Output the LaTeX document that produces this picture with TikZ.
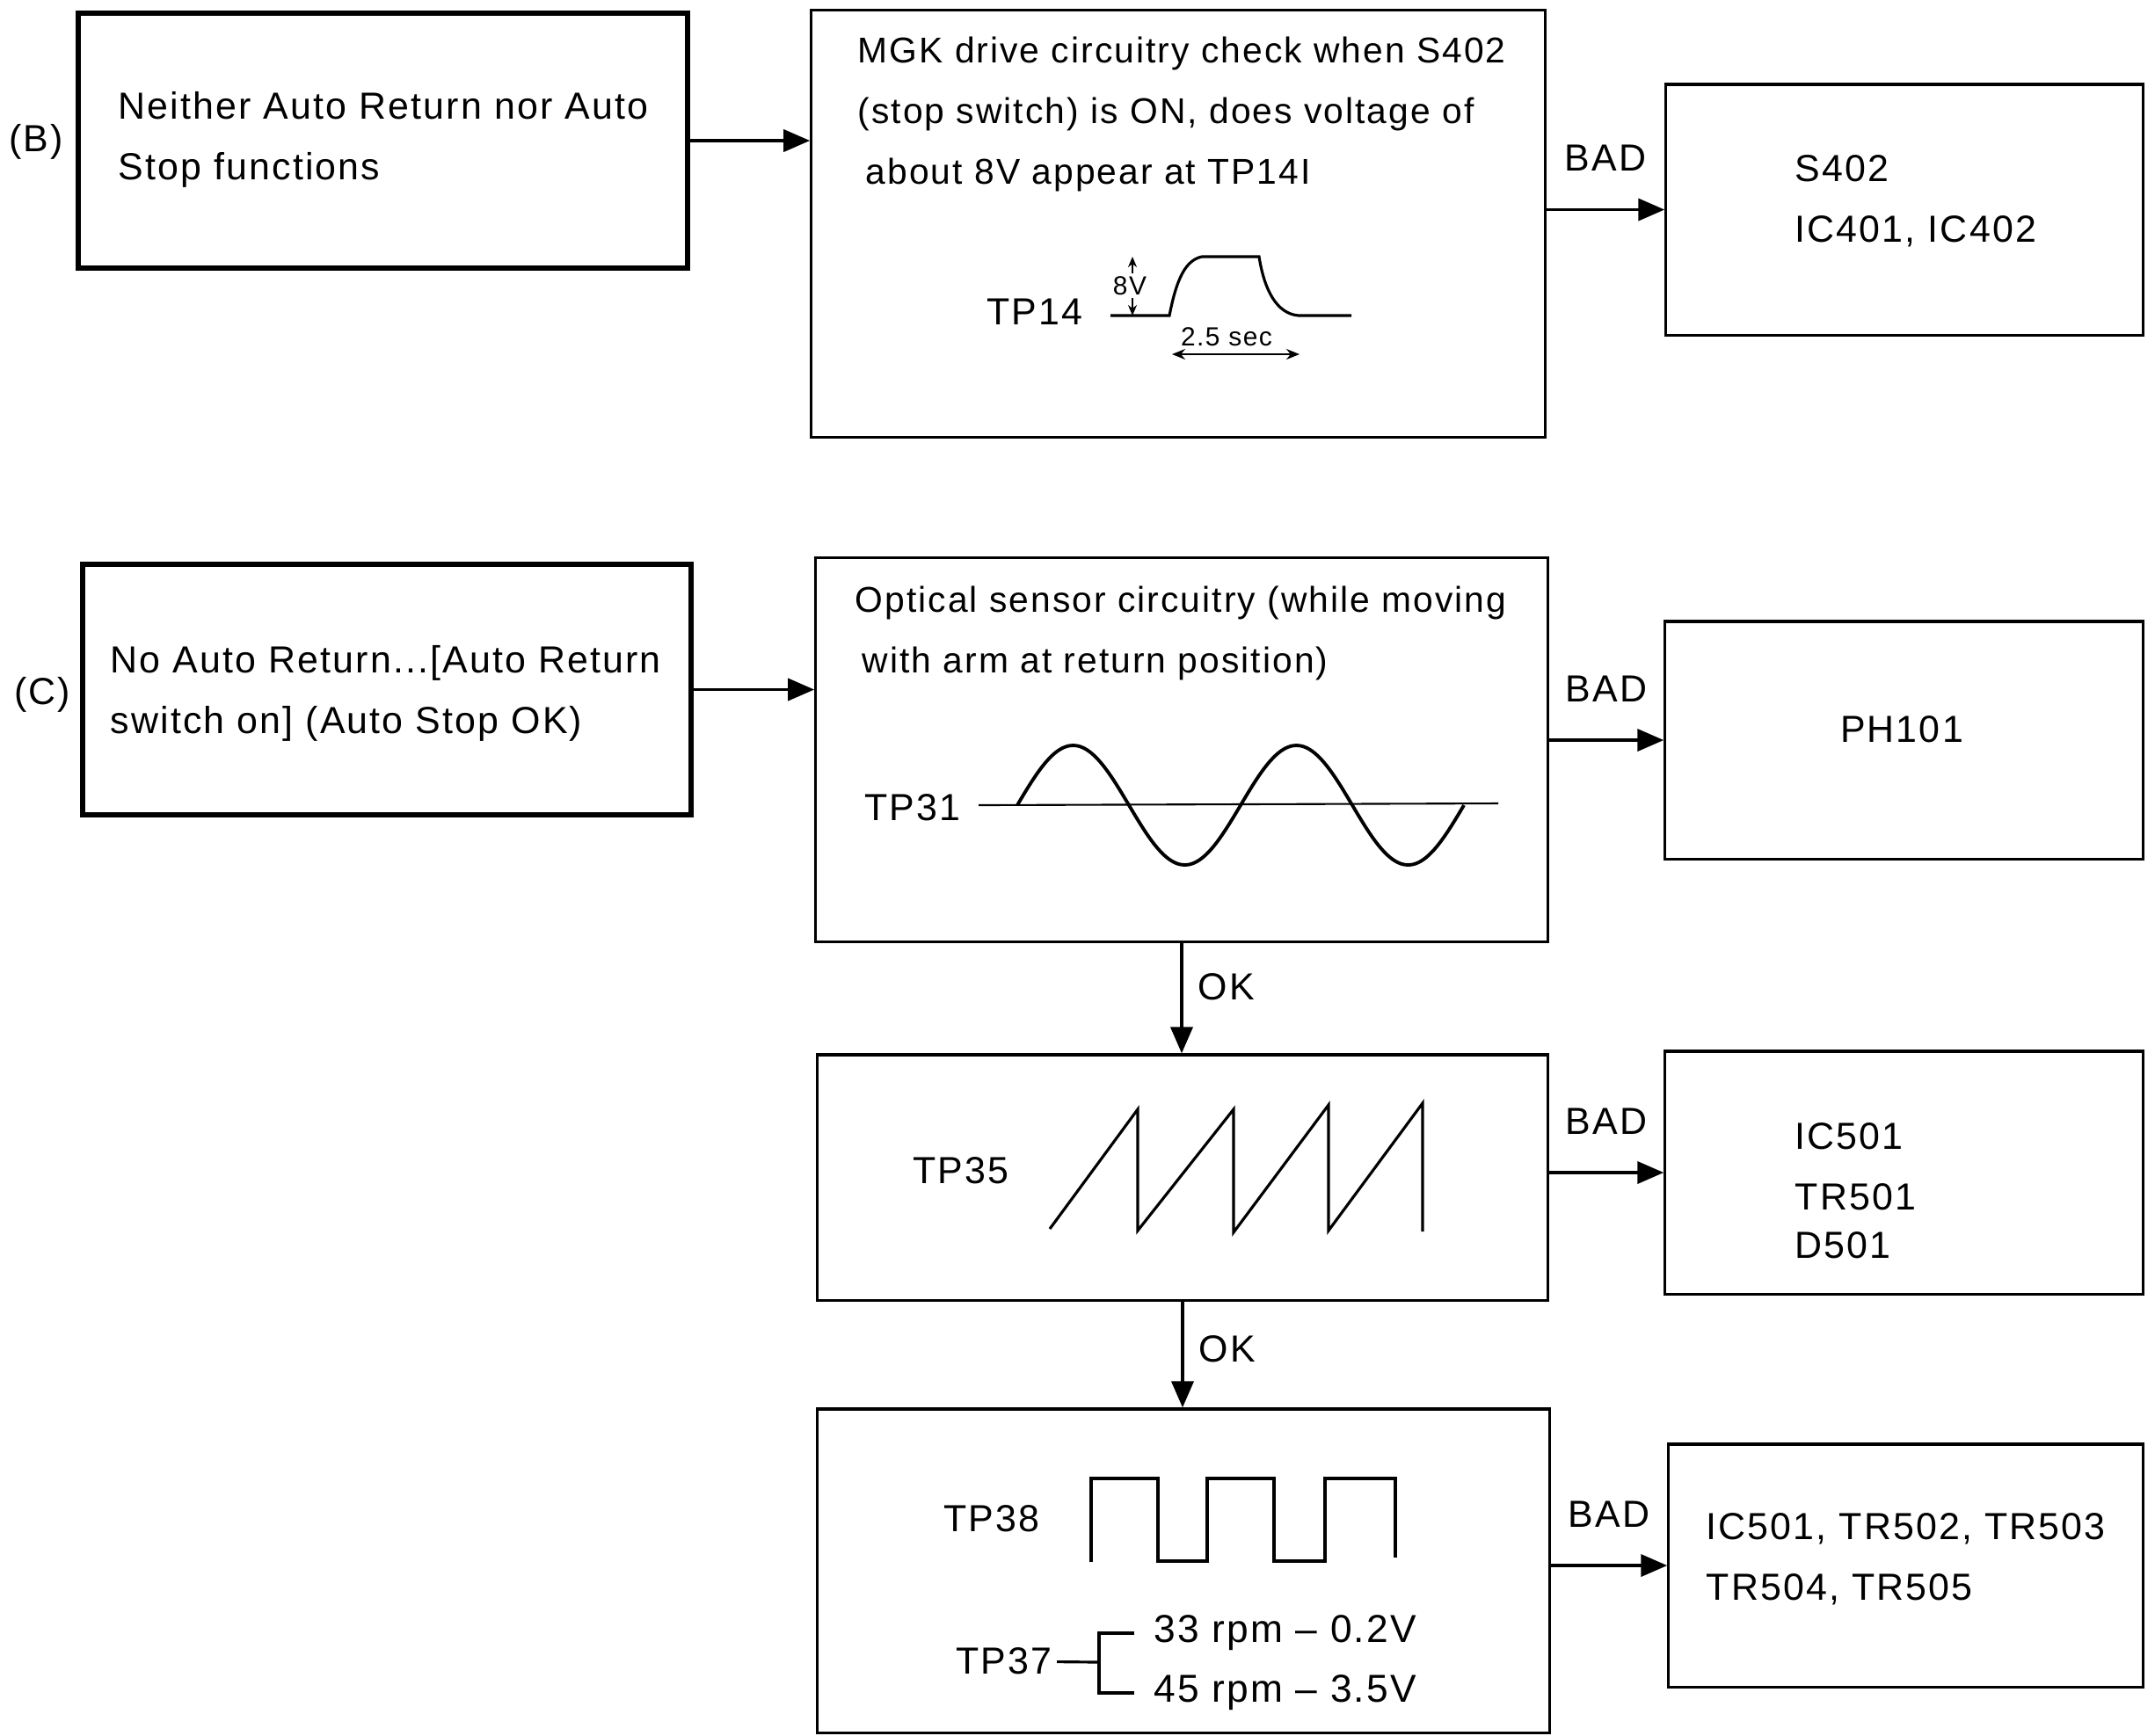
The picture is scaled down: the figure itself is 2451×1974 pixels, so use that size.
\documentclass[tikz,border=0pt]{standalone}
\usepackage{fontspec}
\setmainfont{Liberation Sans}[LetterSpace=5]
\usetikzlibrary{arrows.meta}

\begin{document}
\begin{tikzpicture}[x=0.01cm,y=-0.01cm,>={Triangle[length=3mm,width=2.5mm]},font=\fontsize{12.2}{19.5}\selectfont]
	\tikzstyle{box}=[draw,line width=0.9pt,inner sep=0]
	\tikzstyle{thickbox}=[draw,line width=1.7pt,inner sep=0]
	\tikzstyle{txt}=[anchor=base west,align=left,inner sep=0]
	\tikzstyle{narrow}=[font=\fontsize{11.6}{19.5}\selectfont]
	\tikzstyle{wave}=[line width=1.1pt]
	\tikzstyle{small}=[font=\fontsize{8.5}{10}\selectfont]
	\tikzstyle{rpm}=[anchor=west,inner sep=2.2mm,font=\fontsize{12.6}{15}\selectfont]
	\tikzstyle{every edge}=[draw,line width=1.1pt]

	\useasboundingbox (0,0) rectangle (2451,1974);

	\node (b1) at (435.5,160) [thickbox,minimum width=6.93cm,minimum height=2.90cm] {};
	\node (b2) at (1340,254.5) [box,minimum width=8.34cm,minimum height=4.85cm] {};
	\node (b3) at (2166,238.5) [box,minimum width=5.42cm,minimum height=2.85cm] {};
	\node (c1) at (440,784.5) [thickbox,minimum width=6.92cm,minimum height=2.85cm] {};
	\node (c2) at (1344,853) [box,minimum width=8.32cm,minimum height=4.36cm] {};
	\node (c3) at (2165.5,842) [box,minimum width=5.43cm,minimum height=2.70cm] {};
	\node (c4) at (1345,1339.5) [box,minimum width=8.30cm,minimum height=2.79cm] {};
	\node (c5) at (2165.5,1334) [box,minimum width=5.43cm,minimum height=2.76cm] {};
	\node (c6) at (1346,1787) [box,minimum width=8.32cm,minimum height=3.68cm] {};
	\node (c7) at (2167.5,1781) [box,minimum width=5.39cm,minimum height=2.76cm] {};

	\node (lblb) at (41,161) {(B)};
	\node (lblc) at (48,790) {(C)};

	\node (b1txt) at (134,204) [txt] {Neither Auto Return nor Auto\\Stop functions};
	\node (b2txt) at (975,209) [txt,narrow] {MGK drive circuitry check when S402\\(stop switch) is ON, does voltage of\\\hspace*{0.9mm}about 8V appear at TP14I};
	\node (b3txt) at (2041,275) [txt] {S402\\IC401, IC402};
	\node (c1txt) at (125,834) [txt] {No Auto Return...[Auto Return\\switch on] (Auto Stop OK)};
	\node (c2txt) at (972,765) [txt,narrow] {Optical sensor circuitry (while moving\\\hspace*{0.8mm}with arm at return position)};
	\node (c3txt) at (2163,830) {PH101};
	\node (c5txt) at (2041,1431) [txt] {IC501\\TR501\\[-4pt]D501};
	\node (c7txt) at (1940,1820) [txt] {IC501, TR502, TR503\\TR504, TR505};

	\path [->] (b1) edge (b1 -| b2.west);
	\path [->] (b3 -| b2.east) edge node[above=3mm] {BAD} (b3);
	\path [->] (c1) edge (c1 -| c2.west);
	\path [->] (c3 -| c2.east) edge node[above=3mm] {BAD} (c3);
	\path [->] (c2) edge node[right=0.5mm,pos=0.4] {OK} (c2 |- c4.north);
	\path [->] (c5 -| c4.east) edge node[above=3mm] {BAD} (c5);
	\path [->] (c4) edge node[right=0.5mm,pos=0.45] {OK} (c4 |- c6.north);
	\path [->] (c7 -| c6.east) edge node[above=3mm] {BAD} (c7);

	\node (tp14) at (1177,355) {TP14};
	\draw [line width=0.9pt] (1263,359) -- (1330,359) .. controls (1338,318) and (1348,296) .. (1367,292) -- (1432,292) .. controls (1438,330) and (1452,357) .. (1477,359) -- (1537,359);
	\draw [<->,>={Stealth[length=1.2mm,width=1mm]},line width=0.5pt] (1288,292) -- (1288,359);
	\node (v8) at (1285,325) [small,fill=white,inner sep=0.3mm] {8V};
	\node (t25) at (1395,383) [small] {2.5 sec};
	\draw [<->,>={Stealth[length=1.5mm,width=1.2mm]},line width=0.6pt] (1333,403) -- (1478,403);

	\node (tp31) at (1038,919) {TP31};
	\draw [line width=0.6pt] (1113,916) -- (1704,914);
	\draw [wave,domain=0:720,samples=121,smooth] plot ({1157+\x*0.7056},{916-68*sin(\x)});

	\node (tp35) at (1093,1332) {TP35};
	\draw [line width=0.9pt] (1194,1398) -- (1294,1262) -- (1294,1400) -- (1403,1262) -- (1403,1402) -- (1511,1257) -- (1511,1400) -- (1618,1255) -- (1618,1401);

	\node (tp38) at (1128,1728) {TP38};
	\draw [wave] (1241,1777) -- (1241,1682) -- (1317,1682) -- (1317,1776) -- (1373,1776) -- (1373,1682) -- (1449,1682) -- (1449,1776) -- (1507,1776) -- (1507,1682) -- (1587,1682) -- (1587,1772);

	\node (tp37) at (1142,1890) [inner sep=0.5mm] {TP37};
	\node (rpm33) at (1290,1858) [rpm] {33 rpm – 0.2V};
	\node (rpm45) at (1290,1926) [rpm] {45 rpm – 3.5V};
	\coordinate (brk) at (1250,1891);
	\draw [line width=0.9pt] (tp37) -- (brk);
	\draw [line width=0.9pt] (rpm33.west) -| (brk) |- (rpm45.west);
\end{tikzpicture}
\end{document}
